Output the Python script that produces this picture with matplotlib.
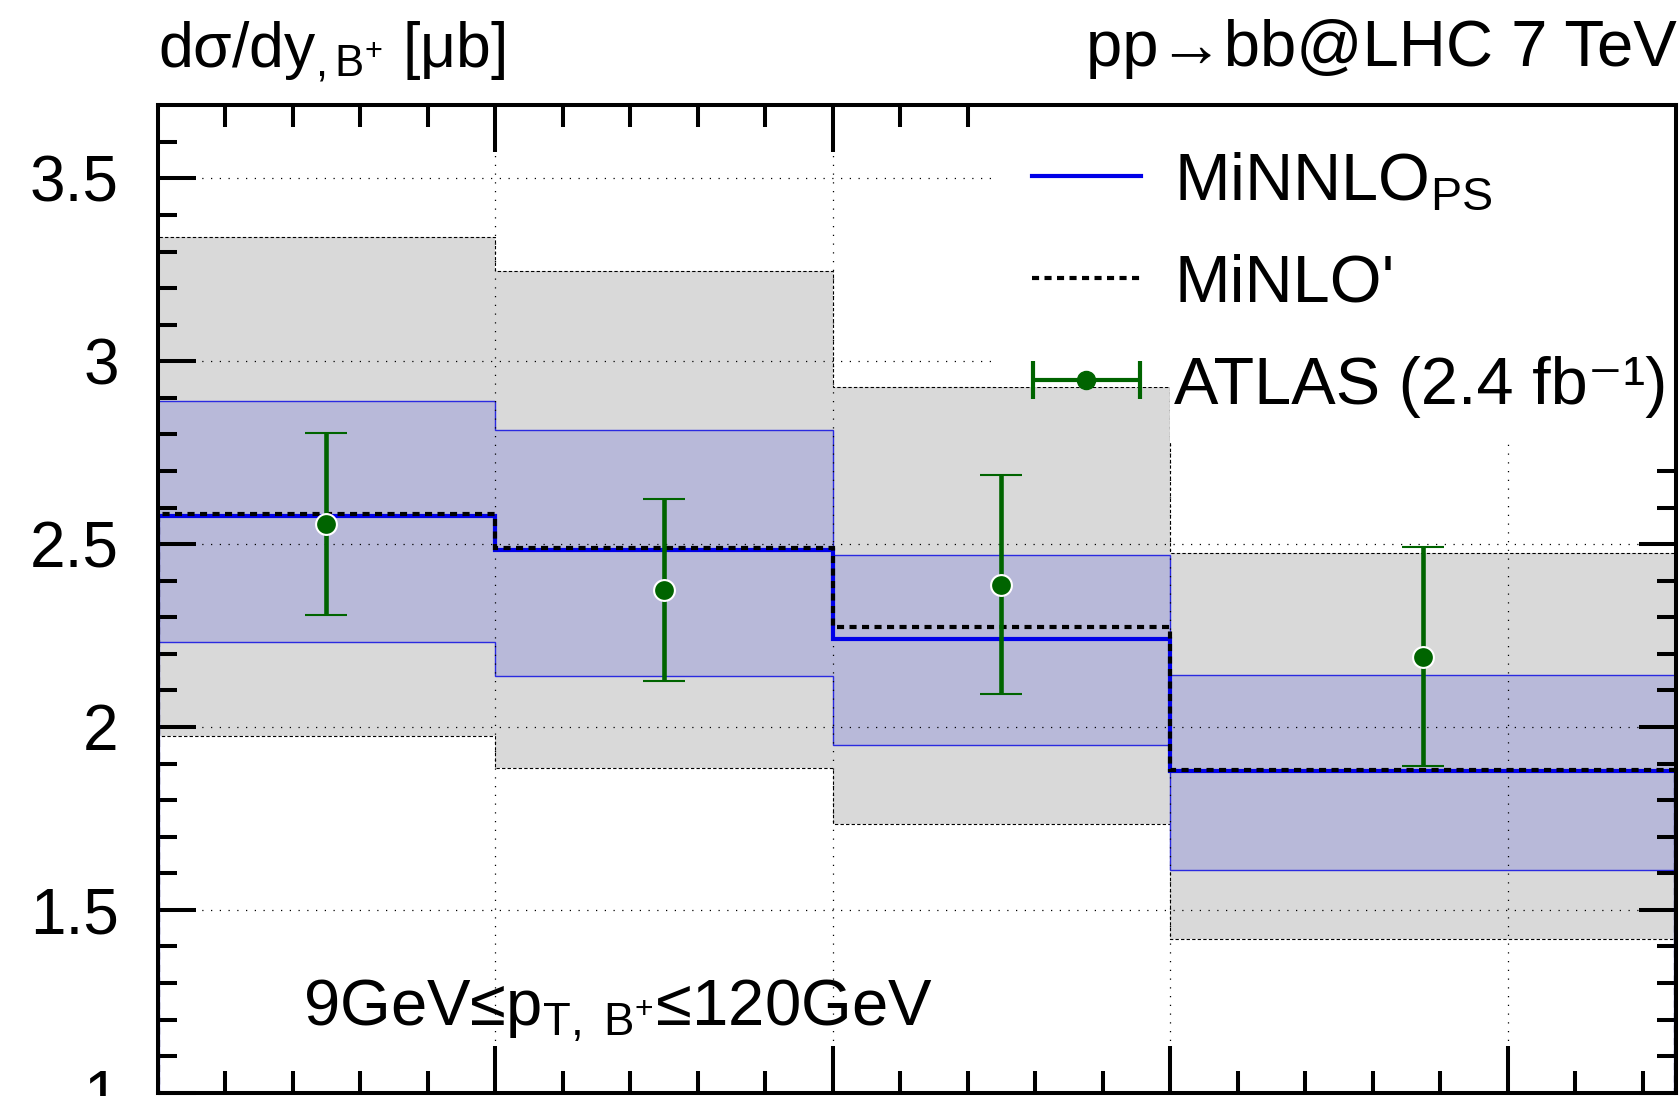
import numpy as np
import matplotlib
matplotlib.use('Agg')
import matplotlib.pyplot as plt
from matplotlib.container import ErrorbarContainer
from matplotlib.legend_handler import HandlerErrorbar

plt.rcParams['font.family'] = ['Liberation Sans', 'DejaVu Sans']
plt.rcParams['mathtext.fontset'] = 'custom'
plt.rcParams['mathtext.rm'] = 'Liberation Sans'
plt.rcParams['mathtext.it'] = 'Liberation Sans'
plt.rcParams['mathtext.default'] = 'regular'

# rapidity bins |y_B+|
edges = np.array([0.0, 0.5, 1.0, 1.5, 2.25])
centers = np.array([0.25, 0.75, 1.25, 1.875])

# MiNNLO_PS central value and scale band
minnlo = np.array([2.576, 2.485, 2.240, 1.880])
minnlo_up = np.array([2.892, 2.813, 2.471, 2.143])
minnlo_dn = np.array([2.231, 2.140, 1.950, 1.608])

# MiNLO' central value and scale band
minlo = np.array([2.582, 2.488, 2.272, 1.883])
minlo_up = np.array([3.339, 3.246, 2.930, 2.477])
minlo_dn = np.array([1.974, 1.889, 1.734, 1.421])

# ATLAS data
atlas = np.array([2.556, 2.374, 2.389, 2.190])
atlas_up = np.array([2.804, 2.623, 2.690, 2.491])
atlas_dn = np.array([2.307, 2.126, 2.091, 1.892])

green = '#006400'
ymax = 3.7

fig = plt.figure(figsize=(16.8, 10.96), dpi=100)
ax = fig.add_axes([0.0938, 0.003, 0.904, 0.901])

# bands
ax.stairs(minlo_up, edges, baseline=minlo_dn, fill=True, color='#d9d9d9', lw=0, zorder=1)
ax.stairs(minlo_up, edges, baseline=minlo_dn, fill=False, color='black', lw=0.8,
          linestyle=(0, (3, 2)), zorder=1.1)
ax.stairs(minnlo_up, edges, baseline=minnlo_dn, fill=True, color='#b8b9d9', lw=0, zorder=1.2)
ax.stairs(minnlo_up, edges, baseline=minnlo_dn, fill=False, color='#2a2ae0', lw=1.0, zorder=1.3)

# white pad behind the legend, kept off the bands
leg_x0, leg_y0 = 1.24, 2.78
ax.fill_between([leg_x0, edges[3]], minlo_up[2], ymax, color='white', lw=0, zorder=1.6)
ax.fill_between([edges[3], edges[4]], leg_y0, ymax, color='white', lw=0, zorder=1.6)

# central lines
ax.stairs(minnlo, edges, color='#0000e8', lw=3, zorder=2, label='MiNNLO$_{PS}$')
ax.stairs(minlo, edges, color='black', lw=3, linestyle=(0, (1.7, 1.3)), zorder=2.1,
          label="MiNLO'")

# data
yerr = np.vstack([atlas - atlas_dn, atlas_up - atlas])
ax.errorbar(centers, atlas, yerr=yerr, fmt='o', color=green, ms=15, mec='white', mew=1.5,
            elinewidth=3.3, capsize=15, capthick=3.3, zorder=4, label='_nolegend_')
ax.errorbar([np.nan], [np.nan], xerr=[1], fmt='o', color=green, ms=13,
            elinewidth=3, capsize=14, capthick=3, label='ATLAS (2.4 fb\u207b\u00b9)')

ax.set_xlim(0, 2.25)
ax.set_ylim(1, ymax)
ax.set_xticks([0.5, 1.0, 1.5, 2.0])
ax.set_xticks(np.arange(0.1, 2.25, 0.1), minor=True)
ax.set_yticks([1, 1.5, 2, 2.5, 3, 3.5])
ax.set_yticks(np.arange(1.1, 3.7, 0.1), minor=True)
ax.set_yticklabels(['1', '1.5', '2', '2.5', '3', '3.5'])
ax.tick_params(axis='both', which='both', direction='in', top=True, right=True,
               labelbottom=False, width=2.9)
ax.tick_params(axis='x', which='major', length=34)
ax.tick_params(axis='x', which='minor', length=16)
ax.tick_params(axis='y', which='major', length=27, labelsize=46, pad=28)
ax.tick_params(axis='y', which='minor', length=14)
for s in ax.spines.values():
    s.set_linewidth(2.9)

ax.set_axisbelow('line')
ax.grid(True, which='major', color='black', lw=0.9, linestyle=(0, (1, 6)))

handles, labels = ax.get_legend_handles_labels()
leg = ax.legend(handles, labels, loc='upper left', bbox_to_anchor=(0.5755, 0.953),
                fontsize=48, frameon=False, handlelength=1.64, handletextpad=0.5,
                labelspacing=0.6, borderpad=0, borderaxespad=0,
                handler_map={ErrorbarContainer: HandlerErrorbar(xerr_size=0.8)})
leg.set_zorder(5)

fig.text(0.0938, 0.938, 'd\u03c3/dy$_{,B^{+}}$ [\u03bcb]', fontsize=45, ha='left',
         va='baseline')
fig.text(0.998, 0.940, 'pp\u2192bb@LHC 7 TeV', fontsize=47, ha='right', va='baseline')
ax.text(0.0958, 0.069, '9GeV\u2264p$_{T,\\ B^{+}}$\u2264120GeV', transform=ax.transAxes,
        fontsize=47, ha='left', va='baseline')

fig.savefig('out.png', dpi=100)
